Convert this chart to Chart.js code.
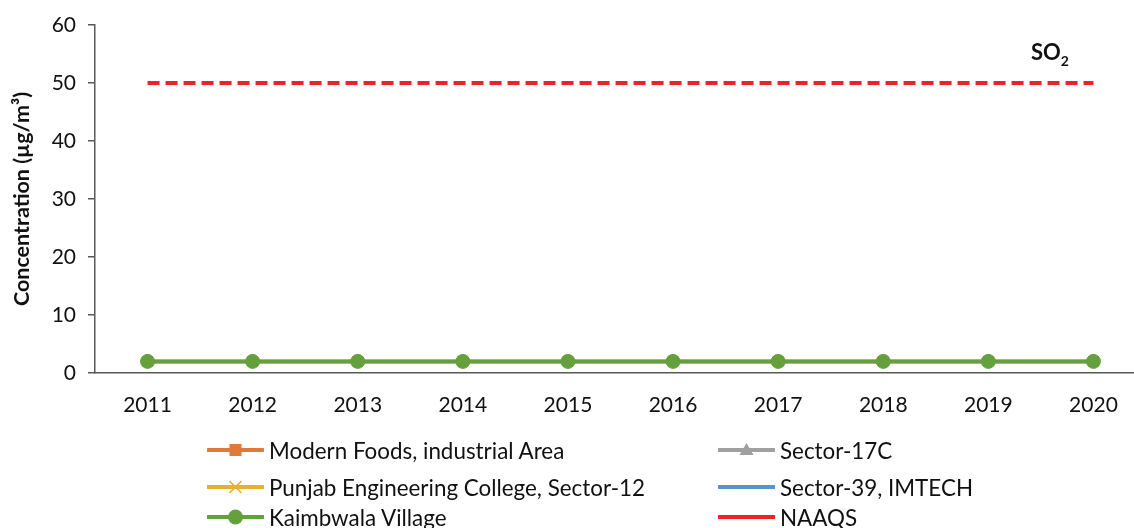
<!DOCTYPE html>
<html>
<head>
<meta charset="utf-8">
<script src="https://cdn.jsdelivr.net/npm/chart.js@4.4.0/dist/chart.umd.min.js"></script>
<style>
  html, body { margin: 0; padding: 0; background: #fff; overflow: hidden; width: 1134px; height: 528px; }
  #wrap { position: relative; width: 1155px; height: 528px; }
  .lg { position: absolute; height: 30px; display: flex; align-items: center; font-family: Lato, sans-serif; font-size: 22.4px; color: #111; white-space: nowrap; }
  .lg svg { margin-right: 5px; }
  #so2 { position: absolute; left: 1031px; top: 38px; font-family: Lato, sans-serif; font-weight: bold; font-size: 22px; color: #111; }
  #so2 sub { font-size: 14px; vertical-align: -6px; }
</style>
</head>
<body>
<div id="wrap">
  <canvas id="c"></canvas>
  <div id="so2">SO<sub>2</sub></div>
</div>
<script>
/* ===== data ===== */
const YEARS = ["2011", "2012", "2013", "2014", "2015", "2016", "2017", "2018", "2019", "2020"];
const MODERN_FOODS = [2, 2, 2, 2, 2, 2, 2, 2, 2, 2];
const SECTOR_17C = [2, 2, 2, 2, 2, 2, 2, 2, 2, 2];
const PEC_SECTOR_12 = [2, 2, 2, 2, 2, 2, 2, 2, 2, 2];
const SECTOR_39 = [2, 2, 2, 2, 2, 2, 2, 2, 2, 2];
const KAIMBWALA = [2, 2, 2, 2, 2, 2, 2, 2, 2, 2];
const NAAQS = [50, 50, 50, 50, 50, 50, 50, 50, 50, 50];

/* ===== series styling ===== */
const SERIES = [
  { label: "Modern Foods, industrial Area", data: MODERN_FOODS, color: "#e07a36", marker: "rect", col: 0, row: 0, order: 5 },
  { label: "Sector-17C", data: SECTOR_17C, color: "#a0a0a0", marker: "triangle", col: 1, row: 0, order: 4 },
  { label: "Punjab Engineering College, Sector-12", data: PEC_SECTOR_12, color: "#e8b02e", marker: "crossRot", col: 0, row: 1, order: 3 },
  { label: "Sector-39, IMTECH", data: SECTOR_39, color: "#5a93cc", marker: false, col: 1, row: 1, order: 2 },
  { label: "Kaimbwala Village", data: KAIMBWALA, color: "#64a03c", marker: "circle", col: 0, row: 2, order: 1 },
  { label: "NAAQS", data: NAAQS, color: "#ee2128", marker: false, dash: [12, 6], col: 1, row: 2, order: 0 },
];

const AXIS = "#595959";
const FONT = "Lato, sans-serif";

const datasets = SERIES.map(s => ({
  label: s.label,
  data: s.data,
  borderColor: s.color,
  backgroundColor: s.color,
  borderWidth: s.dash ? 4 : 3.5,
  borderDash: s.dash || [],
  pointStyle: s.marker || false,
  pointRadius: s.marker ? 7 : 0,
  pointBorderWidth: s.marker === "crossRot" ? 2 : 1,
  pointBorderColor: s.color,
  pointBackgroundColor: s.color,
  tension: 0,
  order: s.order,
}));

new Chart(document.getElementById("c"), {
  type: "line",
  data: { labels: YEARS, datasets },
  options: {
    responsive: true,
    maintainAspectRatio: false,
    animation: false,
    layout: { padding: { top: 25, left: 0, right: 0, bottom: 0 } },
    plugins: { legend: { display: false }, tooltip: { enabled: false } },
    scales: {
      x: {
        offset: true,
        grid: { display: false, drawTicks: false },
        border: { display: true, color: AXIS, width: 1.5 },
        ticks: { color: "#111", font: { family: FONT, size: 21 }, padding: 20, maxRotation: 0 },
        afterFit(scale) { scale.height = 155; },
      },
      y: {
        min: 0,
        max: 60,
        ticks: { stepSize: 10, color: "#111", font: { family: FONT, size: 21 }, padding: 12 },
        grid: { display: true, drawOnChartArea: false, drawTicks: true, tickLength: 7, color: AXIS, lineWidth: 1.5 },
        border: { display: true, color: AXIS, width: 1.5 },
        title: {
          display: true,
          text: "Concentration (µg/m³)",
          color: "#111",
          font: { family: FONT, size: 21.5, weight: "bold" },
          padding: { top: 9, bottom: 0 },
        },
        afterFit(scale) { scale.width = 95; },
      },
    },
  },
});

/* ===== legend (two columns, like the original) ===== */
const COL_X = [207, 718];
const ROW_Y = [450, 487, 517];

function legendIcon(s) {
  const w = 57, h = 22, cy = 11, cx = 28.5;
  let m = "";
  if (s.marker === "rect") m = `<rect x="${cx - 6}" y="${cy - 6}" width="12" height="12" fill="${s.color}"/>`;
  if (s.marker === "triangle") m = `<polygon points="${cx},${cy - 7} ${cx + 7},${cy + 5} ${cx - 7},${cy + 5}" fill="${s.color}"/>`;
  if (s.marker === "crossRot") m = `<path d="M${cx - 6} ${cy - 6}L${cx + 6} ${cy + 6}M${cx + 6} ${cy - 6}L${cx - 6} ${cy + 6}" stroke="${s.color}" stroke-width="1.6"/>`;
  if (s.marker === "circle") m = `<circle cx="${cx}" cy="${cy}" r="7.5" fill="${s.color}"/>`;
  return `<svg width="${w}" height="${h}"><line x1="1" y1="${cy}" x2="${w - 1}" y2="${cy}" stroke="${s.color}" stroke-width="4" stroke-linecap="round"/>${m}</svg>`;
}

const wrap = document.getElementById("wrap");
SERIES.forEach(s => {
  const el = document.createElement("div");
  el.className = "lg";
  el.style.left = COL_X[s.col] + "px";
  el.style.top = (ROW_Y[s.row] - 15) + "px";
  el.innerHTML = legendIcon(s) + `<span>${s.label}</span>`;
  wrap.appendChild(el);
});
</script>
</body>
</html>
